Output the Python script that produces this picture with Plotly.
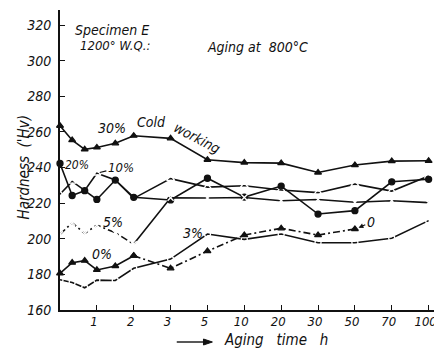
import plotly.graph_objects as go

# ---- data ----
# x positions on the (non-uniform) aging-time axis: index of tick, 0 = origin
x_pos = [0, 0.33, 0.67, 1, 1.5, 2, 3, 4, 5, 6, 7, 8, 9, 10]
x_tick_pos = [1, 2, 3, 4, 5, 6, 7, 8, 9, 10]
x_tick_labels = ["1", "2", "3", "5", "10", "20", "30", "50", "70", "100"]
y_tick_vals = [160, 180, 200, 220, 240, 260, 280, 300, 320]

cw30 = [263.5, 255.4, 250.2, 251.3, 253.6, 257.9, 256.4, 244.4, 242.8, 242.5, 237.2, 241.4, 243.6, 243.8]
cw20 = [242.3, 224.3, 227.0, 222.1, 233.0, 223.3, 221.8, 234.0, 223.4, 229.6, 213.9, 215.8, 232.0, 233.4]
cw10 = [225.0, 232.2, 227.2, 236.8, 233.0, 222.7, 233.8, 229.0, 229.8, 227.4, 225.9, 230.7, 226.8, 235.2]
cw5 = [202.5, 209.0, 203.0, 207.7, 203.4, 197.0, 223.0, 222.9, 223.2, 221.4, 222.1, 220.5, 221.4, 220.3]
cw3 = [177.0, 175.5, 172.5, 176.8, 176.6, 183.4, 188.6, 202.7, 199.7, 202.7, 197.8, 197.8, 200.3, 210.2]
cw0 = [180.6, 186.6, 187.7, 182.5, 184.7, 190.5, 183.4, 193.1, 202.1, 205.9, 202.1, 205.5]

FONT = "DejaVu Sans Condensed, DejaVu Sans, sans-serif"
INK = "#111111"
DASHDOT = "7px,3px,2px,3px"
X_MAX = 10.2

fig = go.Figure()


def add(xs, ys, symbol, size, dash="solid", mline=1.3):
    fig.add_trace(go.Scatter(
        x=xs, y=ys, mode="lines+markers", showlegend=False, hoverinfo="skip",
        line=dict(color=INK, width=1.6, dash=dash),
        marker=dict(symbol=symbol, size=size, color=INK if "open" not in symbol else "white",
                    line=dict(color=INK, width=mline)),
        cliponaxis=False,
    ))


add(x_pos, cw30, "triangle-up", 6)
add(x_pos, cw10, "triangle-up-open", 7)
add(x_pos, cw20, "circle", 6)
# 5 %: dash-dot up to 2 h, solid afterwards
add(x_pos[:6], cw5[:6], "x-thin-open", 6, dash=DASHDOT, mline=1.4)
add(x_pos[5:], cw5[5:], "x-thin-open", 6, mline=1.4)
add(x_pos, cw3, "circle-open", 6)
# 0 %: solid up to 2 h, dash-dot afterwards
n0 = len(cw0)
add(x_pos[:6], cw0[:6], "triangle-up", 6)
add(x_pos[5:n0], cw0[5:], "triangle-up", 6, dash=DASHDOT)


def txt(x, y, s, size=14, angle=0, xref="x", yref="y", **kw):
    fig.add_annotation(x=x, y=y, xref=xref, yref=yref, text=s, showarrow=kw.pop("showarrow", False),
                       textangle=angle, font=dict(family=FONT, size=size, color=INK, style="italic"), **kw)


# curve labels
txt(1.42, 262.5, "30%", 14)
txt(2.47, 265.5, "Cold", 14)
txt(3.72, 256.5, "working", 14, angle=28)
txt(0.46, 241.4, "20%", 12)
txt(1.0, 236.8, "10%", 13, showarrow=True, ax=24, ay=-6, arrowhead=0, arrowwidth=1.2, arrowcolor=INK,
    standoff=3)
txt(1.45, 209.6, "5%", 14)
txt(1.13, 191.6, "0%", 14)
txt(3.62, 203.4, "3%", 14)
txt(8.05, 205.8, "0", 14, showarrow=True, ax=14, ay=-6, arrowhead=2, arrowsize=0.8, arrowwidth=1.2,
    arrowcolor=INK, standoff=2)

# headings
txt(1.42, 317.0, "Specimen E", 14)
txt(1.50, 308.4, "1200° W.Q.:", 13)
txt(5.36, 308.0, "Aging at  800°C", 14)

# axis titles (paper coords computed from page pixels: plot area spans x 60-440, y 10-310)
fig.add_annotation(x=(12 - 60) / 380, y=(310 - 168) / 300, xref="paper", yref="paper",
                   text="Hardness  ('Hv)", textangle=-90, showarrow=False,
                   font=dict(family=FONT, size=15, color=INK, style="italic"))
fig.add_annotation(x=(278 - 60) / 380, y=(310 - 340) / 300, xref="paper", yref="paper",
                   xanchor="center", yanchor="middle",
                   text="Aging   time   h", showarrow=False,
                   font=dict(family=FONT, size=15, color=INK, style="italic"))
# arrow before the x title
ya = (310 - 342) / 300
fig.add_shape(type="line", xref="paper", yref="paper",
              x0=(178 - 60) / 380, x1=(208 - 60) / 380, y0=ya, y1=ya,
              line=dict(color=INK, width=1.4))
fig.add_shape(type="path", xref="paper", yref="paper",
              path="M {a},{b} L {c},{d} L {a},{e} Z".format(
                  a=(205 - 60) / 380, b=(310 - 339) / 300, c=(214 - 60) / 380, d=ya, e=(310 - 345) / 300),
              fillcolor=INK, line=dict(color=INK, width=1))

# the page body has an 8px margin, so the figure is sized 8px smaller and shifted
fig.update_layout(
    width=434, height=343,
    margin=dict(l=52, r=6, t=2, b=41),
    paper_bgcolor="white", plot_bgcolor="white",
    font=dict(family=FONT, color=INK),
    xaxis=dict(range=[0, X_MAX], tickvals=x_tick_pos, ticktext=x_tick_labels,
               showgrid=False, zeroline=False, showline=True, linecolor=INK, linewidth=2,
               ticks="inside", ticklen=5, tickwidth=1.3, tickcolor=INK,
               ticklabelstandoff=-2, ticklabeloverflow="allow", ticklabelshift=-3,
               tickfont=dict(family=FONT, size=13, color=INK, style="italic")),
    yaxis=dict(range=[160, 328.5], tickvals=y_tick_vals,
               showgrid=False, zeroline=False, showline=True, linecolor=INK, linewidth=2,
               ticks="inside", ticklen=5, tickwidth=1.3, tickcolor=INK,
               ticklabelstandoff=4,
               tickfont=dict(family=FONT, size=14, color=INK, style="italic")),
)

fig.write_html("out.html")
